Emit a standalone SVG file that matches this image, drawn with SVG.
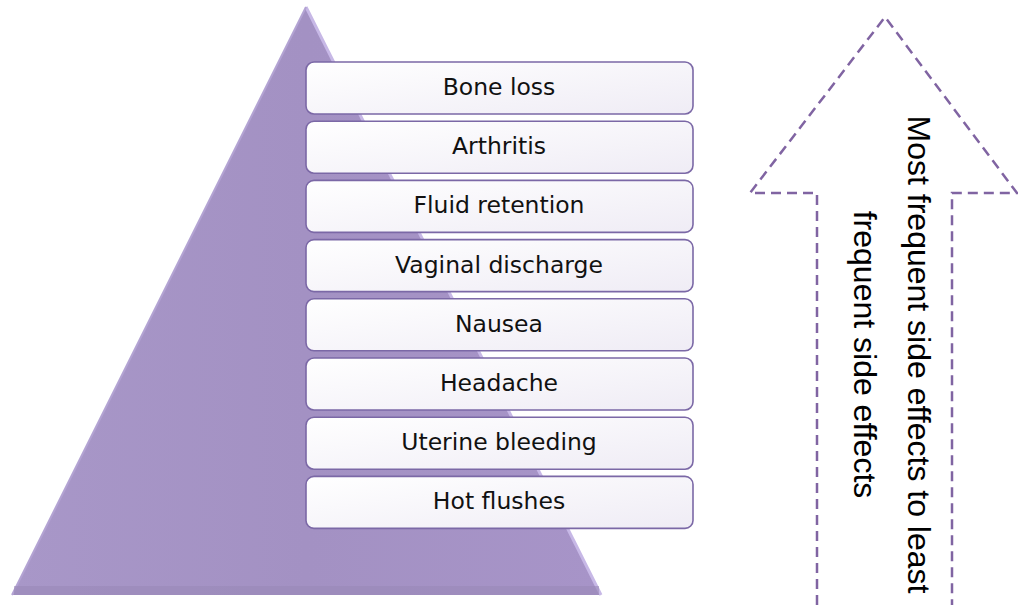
<svg xmlns="http://www.w3.org/2000/svg" width="1018" height="605" viewBox="0 0 1018 605">
<defs>
<style>
.box{fill:url(#boxg);stroke:#7B68A6;stroke-width:1.6}
.lbl{font-family:"DejaVu Sans",sans-serif;font-size:23.5px;fill:#111;text-anchor:middle}
.arr{fill:none;stroke:#8064A2;stroke-width:2.5;stroke-dasharray:10 6}
.vt{font-family:"Liberation Sans",Arial,sans-serif;font-size:32px;fill:#000;text-anchor:middle}
</style>
<linearGradient id="boxg" x1="0" y1="0" x2="1" y2="1">
<stop offset="0" stop-color="#FFFFFF"/>
<stop offset="1" stop-color="#EFECF5"/>
</linearGradient>
<linearGradient id="trig" x1="0" y1="0" x2="1" y2="0">
<stop offset="0" stop-color="#A897C8"/>
<stop offset="0.5" stop-color="#A391C3"/>
<stop offset="1" stop-color="#A794C8"/>
</linearGradient>
</defs>
<g id="pyramid">
<polygon points="306,7 12,595 601,595" fill="url(#trig)"/>
<polyline points="306,7 601,595" fill="none" stroke="#C7B8E6" stroke-width="3" stroke-linejoin="round"/>
<polyline points="306,7 12,595" fill="none" stroke="#B3A3D3" stroke-width="2"/>
<rect x="14" y="586" width="585" height="9" fill="#9A88B8" opacity="0.6"/>
</g>
<g id="n1"><rect class="box" x="306" y="62" width="387" height="52" rx="8"/><text class="lbl" x="499" y="95">Bone loss</text></g>
<g id="n2"><rect class="box" x="306" y="121.2" width="387" height="52" rx="8"/><text class="lbl" x="499" y="154.2">Arthritis</text></g>
<g id="n3"><rect class="box" x="306" y="180.4" width="387" height="52" rx="8"/><text class="lbl" x="499" y="213.4">Fluid retention</text></g>
<g id="n4"><rect class="box" x="306" y="239.6" width="387" height="52" rx="8"/><text class="lbl" x="499" y="272.6">Vaginal discharge</text></g>
<g id="n5"><rect class="box" x="306" y="298.8" width="387" height="52" rx="8"/><text class="lbl" x="499" y="331.8">Nausea</text></g>
<g id="n6"><rect class="box" x="306" y="358" width="387" height="52" rx="8"/><text class="lbl" x="499" y="391">Headache</text></g>
<g id="n7"><rect class="box" x="306" y="417.2" width="387" height="52" rx="8"/><text class="lbl" x="499" y="450.2">Uterine bleeding</text></g>
<g id="n8"><rect class="box" x="306" y="476.4" width="387" height="52" rx="8"/><text class="lbl" x="499" y="509.4">Hot flushes</text></g>
<g id="connectors">
<path class="arr" d="M817,605 L817,193 L750,193 L885,17 L1017,193 L952,193 L952,605"/>
</g>
<g id="arrow-label">
<text class="vt" transform="translate(908,354.5) rotate(90)">Most frequent side effects to least</text>
<text class="vt" transform="translate(854,354.5) rotate(90)">frequent side effects</text>
</g>
</svg>
